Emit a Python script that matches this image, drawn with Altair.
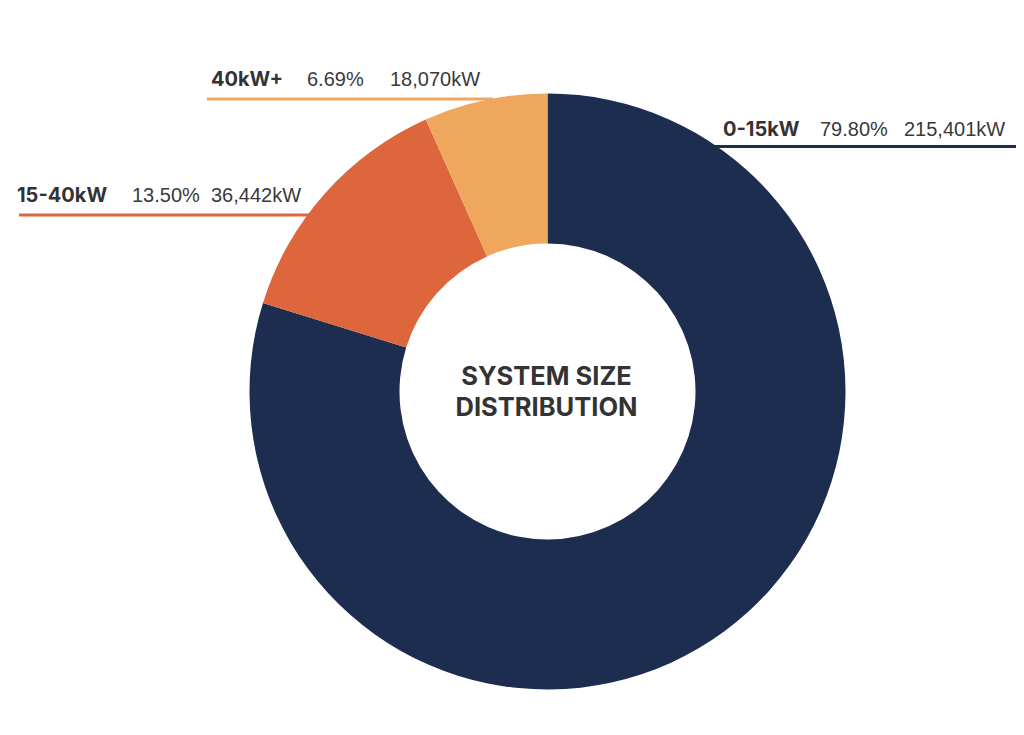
import altair as alt
import pandas as pd

# ---- data ----
categories = ["0-15kW", "15-40kW", "40kW+"]
kw_values = [215401, 36442, 18070]
pct_labels = ["79.80%", "13.50%", "6.69%"]
kw_labels = ["215,401kW", "36,442kW", "18,070kW"]
colors = ["#1c2d50", "#dd663c", "#efa75e"]
title_lines = ["SYSTEM SIZE", "DISTRIBUTION"]

# ---- layout (pixels within the 1008x719 chart) ----
W, H = 1008, 719
CX, CY = 539.5, 383.5
R_OUT, R_IN = 298, 148
name_x = [715, 9, 203]
pct_x = [812, 124, 299]
kw_x = [896, 203, 382]
text_y = [122, 188, 72]
line_y = [138.5, 207, 91]
line_x1 = [706, 11, 199]
line_x2 = [1016, 305, 485]

pie_df = pd.DataFrame({"cat": categories, "kw": kw_values, "order": [0, 1, 2]})

arc = alt.Chart(pie_df).mark_arc(outerRadius=R_OUT, innerRadius=R_IN).encode(
    theta=alt.Theta("kw:Q", stack=True),
    color=alt.Color("cat:N", scale=alt.Scale(domain=categories, range=colors), legend=None),
    order=alt.Order("order:Q"),
    x=alt.value(CX),
    y=alt.value(CY),
)

px = alt.Scale(domain=[0, W], range=[0, W], nice=False, clamp=False)
py = alt.Scale(domain=[0, H], range=[0, H], nice=False)

lines_df = pd.DataFrame({"cat": categories, "x1": line_x1, "x2": line_x2, "y": line_y})
rules = alt.Chart(lines_df).mark_rule(strokeWidth=3, clip=False).encode(
    x=alt.X("x1:Q", scale=px, axis=None),
    x2="x2:Q",
    y=alt.Y("y:Q", scale=py, axis=None),
    color=alt.Color("cat:N", scale=alt.Scale(domain=categories, range=colors), legend=None),
)

names_df = pd.DataFrame({"t": categories, "x": name_x, "y": text_y})
names = alt.Chart(names_df).mark_text(
    align="left", baseline="middle", font="Inter", fontWeight="bold", fontSize=20, color="#333333"
).encode(x=alt.X("x:Q", scale=px, axis=None), y=alt.Y("y:Q", scale=py, axis=None), text="t:N")

pct_df = pd.DataFrame({"t": pct_labels, "x": pct_x, "y": text_y})
pcts = alt.Chart(pct_df).mark_text(
    align="left", baseline="middle", font="Liberation Sans", fontSize=20, color="#3a3a3a"
).encode(x=alt.X("x:Q", scale=px, axis=None), y=alt.Y("y:Q", scale=py, axis=None), text="t:N")

kw_df = pd.DataFrame({"t": kw_labels, "x": kw_x, "y": text_y})
kws = alt.Chart(kw_df).mark_text(
    align="left", baseline="middle", font="Liberation Sans", fontSize=20, color="#3a3a3a"
).encode(x=alt.X("x:Q", scale=px, axis=None), y=alt.Y("y:Q", scale=py, axis=None), text="t:N")

title_df = pd.DataFrame({"t": title_lines, "x": [CX - 1, CX - 1], "y": [CY - 15, CY + 16]})
title = alt.Chart(title_df).mark_text(
    align="center", baseline="middle", font="Inter", fontWeight="bold", fontSize=25.5, color="#333333"
).encode(x=alt.X("x:Q", scale=px, axis=None), y=alt.Y("y:Q", scale=py, axis=None), text="t:N")

chart = alt.layer(arc, rules, names, pcts, kws, title).properties(
    width=W, height=H, autosize=alt.AutoSizeParams(type="none"), padding=0
).configure_view(stroke=None)

chart.save("out.html", embed_options={"renderer": "svg", "actions": False})
